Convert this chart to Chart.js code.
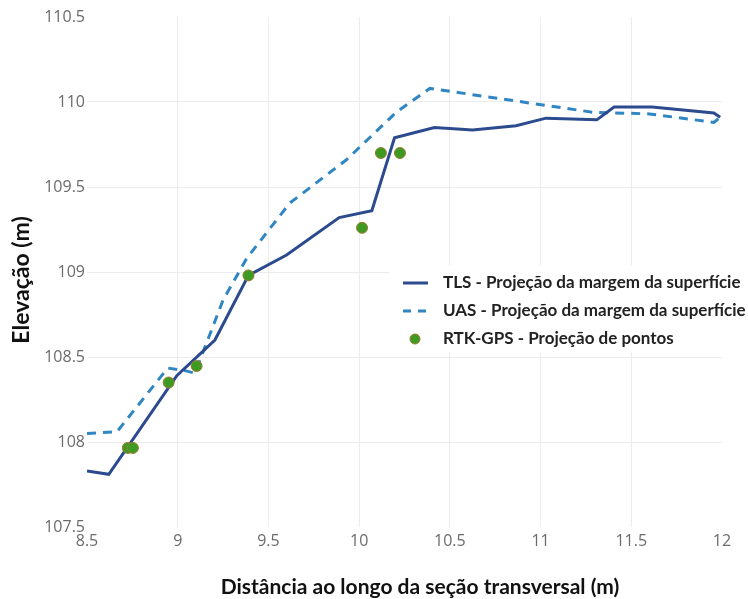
<!DOCTYPE html>
<html>
<head>
<meta charset="utf-8">
<script src="https://cdn.jsdelivr.net/npm/chart.js@4"></script>
<style>
  html, body { margin: 0; padding: 0; background: #fff; }
  #wrap { width: 748px; height: 599px; position: relative; }
</style>
</head>
<body>
<div id="wrap"><canvas id="chart"></canvas></div>
<script>
// TLS - projected surface edge
const tlsX = [8.5, 8.62, 8.995, 9.205, 9.39, 9.6, 9.89, 10.07, 10.195, 10.415, 10.625, 10.865, 11.03, 11.31, 11.405, 11.615, 11.955, 11.99];
const tlsY = [107.83, 107.81, 108.39, 108.6, 108.98, 109.1, 109.32, 109.36, 109.79, 109.85, 109.835, 109.86, 109.905, 109.895, 109.97, 109.97, 109.935, 109.91];

// UAS - projected surface edge
const uasX = [8.5, 8.665, 8.945, 9.04, 9.095, 9.25, 9.38, 9.617, 9.93, 10.205, 10.39, 11.285, 11.6, 11.955, 11.99];
const uasY = [108.05, 108.06, 108.435, 108.42, 108.405, 108.835, 109.08, 109.405, 109.66, 109.94, 110.08, 109.94, 109.93, 109.88, 109.91];

// RTK-GPS points
const gpsX = [8.725, 8.753, 8.95, 9.104, 9.39, 10.016, 10.12, 10.225];
const gpsY = [107.965, 107.965, 108.35, 108.447, 108.98, 109.26, 109.70, 109.70];

const xTicks = [8.5, 9, 9.5, 10, 10.5, 11, 11.5, 12];
const yTicks = [107.5, 108, 108.5, 109, 109.5, 110, 110.5];

const seriesNames = [
  'TLS - Projeção da margem da superfície',
  'UAS - Projeção da margem da superfície',
  'RTK-GPS - Projeção de pontos'
];

const toPoints = (xs, ys) => xs.map((x, i) => ({ x: x, y: ys[i] }));

const tlsColor = '#2c4a8e';
const uasColor = '#2f86c2';
const gpsFill = '#3f9a22';
const gpsBorder = '#9a7b30';

// white legend box inside the plot, plus axis titles
const overlay = {
  id: 'overlay',
  afterDatasetsDraw(chart) {
    const ctx = chart.ctx;
    ctx.save();
    ctx.fillStyle = '#fff';
    ctx.fillRect(390, 265, 358, 87);

    const rows = [283, 311, 339];
    ctx.font = 'bold 17px Lato';
    ctx.fillStyle = '#222';
    ctx.textBaseline = 'middle';
    seriesNames.forEach((name, i) => {
      const y = rows[i];
      if (i === 0) {
        ctx.strokeStyle = tlsColor; ctx.lineWidth = 3; ctx.setLineDash([]);
        ctx.beginPath(); ctx.moveTo(403, y); ctx.lineTo(428, y); ctx.stroke();
      } else if (i === 1) {
        ctx.strokeStyle = uasColor; ctx.lineWidth = 3; ctx.setLineDash([8, 7]);
        ctx.beginPath(); ctx.moveTo(403, y); ctx.lineTo(428, y); ctx.stroke();
        ctx.setLineDash([]);
      } else {
        ctx.fillStyle = gpsFill; ctx.strokeStyle = gpsBorder; ctx.lineWidth = 1;
        ctx.beginPath(); ctx.arc(415, y, 5, 0, Math.PI * 2); ctx.fill(); ctx.stroke();
        ctx.fillStyle = '#222';
      }
      ctx.fillText(name, 443, y);
    });

    ctx.fillStyle = '#111';
    ctx.font = 'bold 21px Lato';
    ctx.textAlign = 'center';
    ctx.fillText('Distância ao longo da seção transversal (m)', 420, 587);
    ctx.font = 'bold 23px Lato';
    ctx.translate(22, 280);
    ctx.rotate(-Math.PI / 2);
    ctx.fillText('Elevação (m)', 0, 0);
    ctx.restore();
  }
};

const gridColor = (c) => (c.index === 0 || c.index === c.chart.scales[c.scale.id].ticks.length - 1) ? 'rgba(0,0,0,0)' : '#ececec';
const plainLabel = (v) => String(v);

new Chart(document.getElementById('chart'), {
  type: 'scatter',
  data: {
    datasets: [
      {
        label: seriesNames[0],
        type: 'line',
        data: toPoints(tlsX, tlsY),
        borderColor: tlsColor,
        borderWidth: 3,
        pointRadius: 0,
        fill: false,
        tension: 0,
        order: 2
      },
      {
        label: seriesNames[1],
        type: 'line',
        data: toPoints(uasX, uasY),
        borderColor: uasColor,
        borderWidth: 3,
        borderDash: [9, 7],
        pointRadius: 0,
        fill: false,
        tension: 0,
        order: 3
      },
      {
        label: seriesNames[2],
        data: toPoints(gpsX, gpsY),
        backgroundColor: gpsFill,
        borderColor: gpsBorder,
        borderWidth: 1,
        pointRadius: 5.5,
        order: 1
      }
    ]
  },
  options: {
    responsive: true,
    maintainAspectRatio: false,
    animation: false,
    layout: { padding: { top: 17, right: 26, left: 0, bottom: 0 } },
    plugins: { legend: { display: false }, tooltip: { enabled: false } },
    scales: {
      x: {
        type: 'linear',
        min: 8.5, max: 12,
        afterBuildTicks: (s) => { s.ticks = xTicks.map(v => ({ value: v })); },
        afterFit: (s) => { s.height = 72; },
        border: { display: false },
        grid: { color: gridColor, drawTicks: false, lineWidth: 1 },
        ticks: { color: '#6b6b6b', font: { family: 'Open Sans', size: 16 }, padding: 5, maxRotation: 0, callback: plainLabel }
      },
      y: {
        type: 'linear',
        min: 107.5, max: 110.5,
        afterBuildTicks: (s) => { s.ticks = yTicks.map(v => ({ value: v })); },
        afterFit: (s) => { s.width = 87; },
        border: { display: false },
        grid: { color: gridColor, drawTicks: false, lineWidth: 1 },
        ticks: { color: '#6b6b6b', font: { family: 'Open Sans', size: 16 }, padding: 2, callback: plainLabel }
      }
    }
  },
  plugins: [overlay]
});
</script>
</body>
</html>
